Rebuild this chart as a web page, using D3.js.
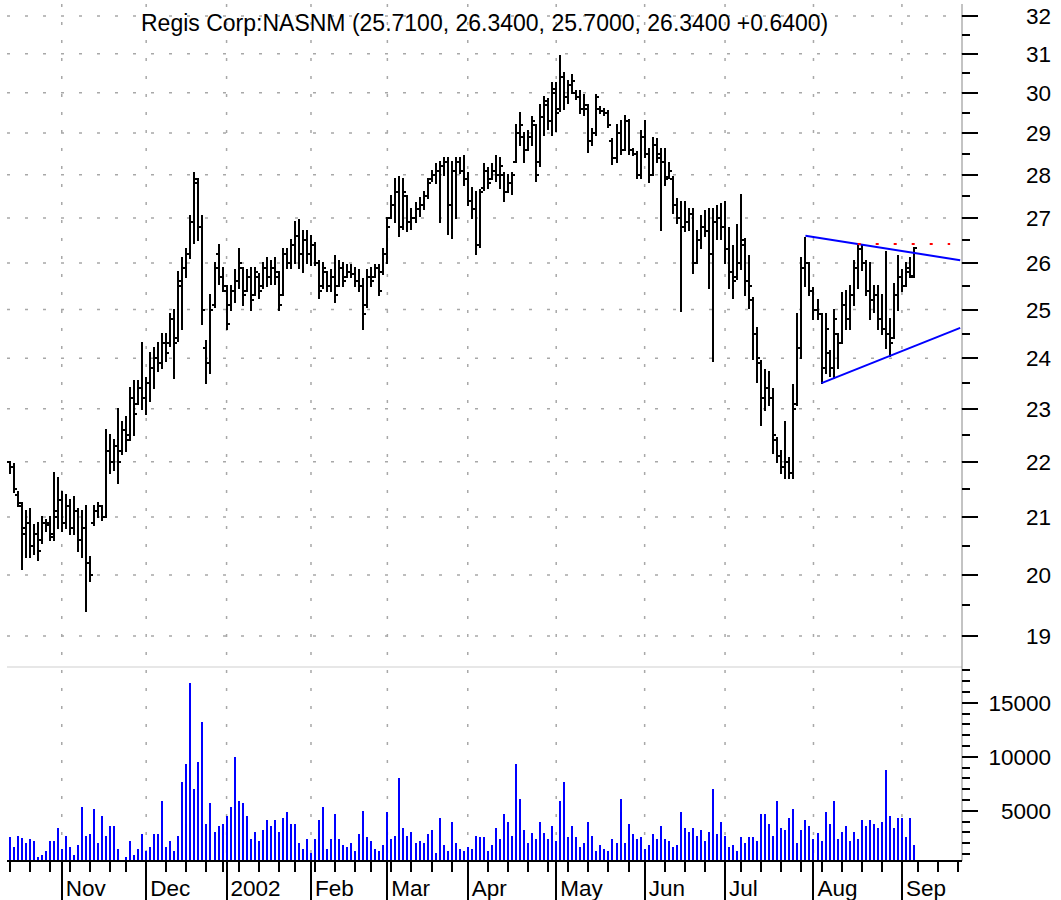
<!DOCTYPE html>
<html>
<head>
<meta charset="utf-8">
<script src="https://cdn.jsdelivr.net/npm/d3@7"></script>
<style>
  body { margin: 0; background: #fff; }
  svg { display: block; }
  text { font-family: "Liberation Sans", Arial, sans-serif; fill: #000; }
</style>
</head>
<body>
<svg id="chart" width="1061" height="900"></svg>
<script>
// daily bars, index 0 = Oct 15 2001 ... 225 = Sep 6 2002 (trading days)
const open = [
  22.0,21.9,21.4,21.2,20.8,20.9,20.5,20.7,20.6,20.9,
  20.9,20.7,21.1,21.3,20.9,21.2,20.8,21.1,20.6,20.8,
  20.2,20.9,21.1,21.2,21.0,22.2,22.0,22.3,22.2,22.6,
  22.5,23.2,23.1,23.4,23.2,23.5,23.8,24.0,23.9,24.3,
  24.3,24.8,24.4,25.5,25.9,26.2,26.9,27.8,26.8,24.2,
  23.9,25.1,26.2,25.7,25.4,25.1,25.4,25.6,25.9,25.4,
  25.7,25.3,25.7,25.5,25.9,25.7,25.9,25.7,25.3,26.2,
  26.0,26.4,26.6,26.2,26.5,26.2,26.4,26.0,25.5,25.8,
  25.5,25.7,25.5,25.9,25.7,25.8,25.75,25.6,25.5,25.1,
  25.7,25.7,25.9,25.8,26.2,27.0,27.3,27.6,26.8,27.5,
  26.9,27.0,27.2,27.3,27.5,27.9,28.0,28.1,28.2,28.3,
  27.3,28.1,28.3,28.1,27.9,27.4,27.2,26.4,27.7,28.1,
  27.9,28.1,28.0,28.0,27.6,27.8,28.3,29.0,28.9,28.6,
  28.9,29.2,28.3,29.4,29.7,29.3,30.0,29.6,30.4,29.9,
  30.2,30.0,29.9,29.6,29.6,28.8,29.0,29.6,29.55,29.5,
  28.8,28.4,29.0,28.6,29.3,28.6,28.5,28.0,28.9,28.5,
  28.0,28.7,28.5,28.3,27.95,27.9,27.3,27.0,26.8,26.9,
  27.1,26.0,26.5,26.8,26.7,26.2,26.9,27.0,26.8,26.3,
  25.8,25.7,26.0,26.4,25.6,25.2,24.5,23.9,23.2,23.4,
  23.2,22.4,22.1,21.9,22.0,21.8,23.1,24.2,25.9,26.0,
  25.4,25.0,24.9,23.8,24.1,23.8,24.5,24.3,25.1,24.8,
  25.3,25.9,26.3,26.0,25.4,25.2,25.3,24.8,24.6,24.5,
  24.4,25.3,25.7,25.5,25.8,25.71
];
const high = [
  22.0,21.95,21.45,21.25,21.1,21.15,20.85,20.9,21.0,20.95,
  21.0,21.8,21.7,21.45,21.4,21.3,21.35,21.15,21.1,21.2,
  20.3,21.2,21.25,21.2,22.6,22.5,22.4,23.0,22.75,22.85,
  23.4,23.55,23.55,24.3,23.6,24.1,24.2,24.3,24.5,24.5,
  24.9,25.0,25.8,26.1,26.3,27.05,28.05,27.9,27.05,24.35,
  25.3,26.0,26.4,25.9,25.5,25.5,25.85,26.3,25.9,25.85,
  25.9,25.9,25.75,26.0,26.1,26.05,26.1,25.8,26.3,26.3,
  26.5,26.9,26.95,26.7,26.7,26.6,26.45,26.05,26.0,25.8,
  25.85,26.15,26.05,26.0,25.95,25.95,25.9,25.85,25.65,25.85,
  25.9,25.95,25.95,26.3,27.0,27.5,27.9,27.95,27.9,27.5,
  27.2,27.35,27.45,27.6,27.9,28.1,28.25,28.3,28.4,28.4,
  28.3,28.4,28.4,28.45,28.05,27.7,27.6,27.65,28.25,28.15,
  28.25,28.45,28.4,28.05,28.0,28.05,29.2,29.5,29.0,29.05,
  29.4,29.2,29.7,29.9,29.85,30.25,30.25,30.95,30.5,30.3,
  30.45,30.05,30.05,29.95,29.7,29.1,29.95,29.65,29.6,29.55,
  28.85,29.2,29.29,29.41,29.33,28.62,28.54,29.04,29.29,28.62,
  28.88,28.85,28.62,28.62,28.27,27.96,27.44,27.36,27.36,27.2,
  27.2,26.7,27.04,27.16,27.2,27.2,27.28,27.32,27.36,26.78,
  26.37,26.85,27.52,26.52,26.15,25.24,24.62,23.95,23.76,23.72,
  23.39,22.45,22.19,22.74,22.06,23.46,24.9,26.1,26.55,26.0,
  25.45,25.2,24.9,24.9,24.15,25.0,24.5,25.35,25.4,25.5,
  26.05,26.4,26.4,26.05,26.0,25.5,25.5,25.3,26.25,24.8,
  25.55,26.15,25.85,26.0,26.1,26.34
];
const low = [
  21.8,21.45,21.2,20.1,20.3,20.3,20.35,20.25,20.55,20.75,
  20.6,20.6,20.8,20.75,20.8,20.7,20.7,20.4,20.3,19.4,
  19.9,20.85,21.0,20.95,21.0,21.8,21.85,21.6,22.15,22.2,
  22.4,22.5,23.1,23.0,22.9,23.15,23.4,23.75,23.8,23.95,
  24.25,23.6,24.35,24.6,25.7,26.1,26.45,26.5,24.7,23.5,
  23.7,25.05,25.55,25.4,24.6,25.0,25.15,25.45,25.1,25.4,
  25.0,25.3,25.25,25.45,25.5,25.55,25.55,25.0,25.3,25.9,
  25.9,26.0,25.9,25.8,26.0,25.95,25.95,25.25,25.45,25.4,
  25.4,25.15,25.5,25.5,25.7,25.7,25.5,25.4,24.6,25.05,
  25.5,25.7,25.3,25.75,26.0,27.0,26.9,26.6,26.75,26.7,
  26.75,26.9,27.05,27.2,27.45,27.85,27.8,26.9,28.0,26.65,
  26.55,27.0,28.05,27.75,27.3,27.0,26.2,26.35,27.65,27.7,
  27.9,27.85,27.7,27.4,27.6,27.55,28.3,28.7,28.3,28.6,
  28.7,27.85,28.2,28.95,29.1,28.95,29.05,29.55,29.6,29.75,
  30.0,29.85,29.5,29.45,28.55,28.7,28.95,29.5,29.45,29.15,
  28.25,28.3,28.5,28.58,28.5,28.46,27.92,27.92,28.42,27.84,
  28.0,28.31,26.74,27.76,27.92,27.12,26.89,24.97,26.7,26.74,
  25.79,26.0,26.33,26.59,25.45,23.95,26.52,26.52,26.0,25.45,
  25.24,25.66,25.86,25.31,25.03,23.99,23.53,22.68,22.97,23.07,
  22.16,22.0,21.79,21.7,21.7,21.7,23.07,24.0,25.5,25.3,
  24.8,24.8,23.5,23.7,23.65,23.6,23.8,24.3,24.6,24.6,
  25.1,25.45,25.85,25.3,24.8,24.95,24.6,24.5,24.2,24.05,
  24.4,25.0,25.4,25.5,25.7,25.70
];
const close = [
  21.9,21.5,21.25,20.7,20.9,20.5,20.7,20.4,20.9,20.85,
  20.65,21.0,21.3,20.9,21.2,20.8,21.1,20.6,20.8,20.2,
  20.0,21.1,21.2,21.0,22.2,22.0,22.3,22.0,22.6,22.4,
  23.2,22.9,23.4,23.2,23.5,23.8,24.0,23.9,24.3,24.1,
  24.8,24.3,25.6,25.9,26.2,26.9,27.9,26.8,25.0,23.9,
  25.0,25.9,25.7,25.5,24.7,25.4,25.6,26.0,25.3,25.7,
  25.2,25.8,25.4,25.9,25.7,25.9,25.8,25.1,26.2,26.0,
  26.4,26.6,26.2,26.5,26.2,26.4,26.0,25.4,25.9,25.5,
  25.7,25.3,25.9,25.6,25.8,25.75,25.6,25.5,24.9,25.7,
  25.6,25.9,25.4,26.2,26.8,27.3,27.6,26.8,27.6,26.9,
  27.0,27.2,27.3,27.5,27.8,28.0,28.1,28.2,28.3,27.3,
  28.1,28.3,28.1,27.9,27.4,27.2,26.4,27.6,28.1,27.8,
  28.1,28.0,28.2,27.6,27.8,28.0,29.0,29.2,28.6,28.9,
  29.3,28.0,29.4,29.8,29.3,30.1,29.5,30.4,29.9,30.2,
  30.3,29.9,29.6,29.7,28.8,29.0,29.9,29.55,29.5,29.2,
  28.4,29.0,28.6,29.3,28.6,28.5,28.0,28.9,28.5,28.0,
  28.7,28.4,28.3,27.9,28.1,27.3,27.0,26.8,26.9,27.1,
  26.0,26.5,26.8,26.7,26.2,26.9,27.0,26.8,26.3,25.8,
  25.6,26.0,26.5,25.6,25.5,24.5,24.0,23.2,23.4,23.2,
  22.5,22.1,21.9,22.0,21.8,23.0,24.2,25.9,26.0,25.4,
  25.0,24.9,23.8,24.6,23.8,24.8,24.3,25.1,24.8,25.3,
  25.9,26.3,26.0,25.4,25.2,25.3,24.8,24.6,24.5,24.3,
  25.3,25.7,25.5,25.9,25.70,26.34
];
const volume = [
  2530,1600,2690,2500,1975,2350,2160,740,930,1270,
  2160,2160,3430,1450,2690,1600,930,1790,5370,2690,
  2870,5190,1975,4480,2690,3610,3610,1450,400,740,
  2160,930,1450,2870,1270,1600,2870,2870,5900,1600,
  2160,1270,2690,7690,9290,16790,6980,9480,13240,3770,
  5740,3060,3580,3770,4480,5370,10000,5900,5740,4480,
  2350,3060,2160,3240,4140,3580,4140,3060,4290,4850,
  3770,3770,1975,1450,2350,1110,2350,4140,5370,1450,
  2350,4660,2350,1790,1600,1975,1270,2870,5000,2530,
  2160,1450,1270,1790,4850,2350,2690,8060,3430,2690,
  3060,1975,2160,1975,2870,3240,1110,4290,1790,1270,
  3950,1975,1450,1270,1600,1450,2690,2530,2530,1270,
  1790,3430,2350,4660,3950,2690,9290,6080,3240,1975,
  2900,2350,3920,2900,2350,3610,2160,5900,7690,2530,
  3610,2530,1600,1975,3920,2690,1270,1790,1450,1270,
  2350,1975,6080,1975,3770,2870,2350,2530,1450,1790,
  2870,2350,3610,2350,2160,1600,1790,4850,3430,3060,
  3430,2690,3240,2160,3060,6980,2870,3950,2690,1600,
  1790,1270,2530,1975,2530,2530,2160,4660,4660,3770,
  2690,5900,3430,3240,4290,5190,1975,3240,4140,3610,
  2350,2900,2160,4850,3770,5900,2350,3060,3610,2160,
  3060,2350,4140,3610,4140,3770,3430,3950,8770,4480,
  3430,4290,4290,2530,4290,1790
];

const monthLabels = ["Nov", "Dec", "2002", "Feb", "Mar", "Apr", "May", "Jun", "Jul", "Aug", "Sep"];
const monthIndex = [13, 34, 54, 75, 94, 114, 136, 158, 178, 200, 222];
const weekIndex = [0, 5, 10, 15, 20, 25, 29, 34, 39, 44, 49, 53, 57, 62, 67, 71, 76, 81, 86, 90,
  95, 100, 105, 110, 114, 119, 124, 129, 134, 139, 144, 149, 154, 158, 163, 168, 173, 178, 182,
  187, 192, 197, 202, 207, 212, 217, 222, 226, 231, 236];

const priceTicks = [19, 20, 21, 22, 23, 24, 25, 26, 27, 28, 29, 30, 31, 32];
const volumeTicks = [5000, 10000, 15000];

// triangle drawn on the chart: [bar index, price]
const trendUpper = [[198, 26.6], [236.5, 26.06]];
const trendLower = [[202, 23.5], [236.5, 24.62]];
const resistance = [[211, 26.42], [234, 26.42]];

const title = "Regis Corp:NASNM (25.7100, 26.3400, 25.7000, 26.3400 +0.6400)";

const svg = d3.select("#chart");

const axisX = 962;
const baseY = 861;
const x = d3.scaleLinear().domain([0, 236]).range([9.5, 958.2]);
const y = d3.scaleLog().domain([19, 32]).range([636, 16]);
const yv = d3.scaleLinear().domain([0, 15000]).range([864.7, 702.7]);

const bars = d3.range(open.length).map(i => ({
  i: i, o: open[i], h: high[i], l: low[i], c: close[i], v: volume[i]
}));

// dotted grid
const grid = svg.append("g")
    .attr("stroke", "#a8a8a8")
    .attr("stroke-width", 1.5)
    .attr("stroke-dasharray", "3,15");

grid.selectAll("line.h")
    .data(priceTicks)
    .join("line")
    .attr("class", "h")
    .attr("x1", 7)
    .attr("x2", axisX)
    .attr("y1", d => y(d))
    .attr("y2", d => y(d));

grid.selectAll("line.v")
    .data(monthIndex)
    .join("line")
    .attr("class", "v")
    .attr("x1", d => x(d))
    .attr("x2", d => x(d))
    .attr("y1", 4)
    .attr("y2", baseY);

// panel separator
svg.append("line")
    .attr("x1", 7).attr("x2", axisX)
    .attr("y1", 667).attr("y2", 667)
    .attr("stroke", "#cfcfcf")
    .attr("stroke-width", 1);

// volume
svg.append("g")
    .selectAll("line")
    .data(bars)
    .join("line")
    .attr("x1", d => x(d.i))
    .attr("x2", d => x(d.i))
    .attr("y1", baseY)
    .attr("y2", d => yv(d.v))
    .attr("stroke", "#0000ff")
    .attr("stroke-width", 2)
    .attr("shape-rendering", "crispEdges");

// price bars
const pb = svg.append("g")
    .attr("stroke", "#000")
    .attr("stroke-width", 2)
    .attr("shape-rendering", "crispEdges");

const bar = pb.selectAll("g")
    .data(bars)
    .join("g");

bar.append("line")
    .attr("x1", d => x(d.i))
    .attr("x2", d => x(d.i))
    .attr("y1", d => y(d.h) - 1)
    .attr("y2", d => y(d.l) + 1);

bar.append("line")
    .attr("x1", d => x(d.i) - 3)
    .attr("x2", d => x(d.i))
    .attr("y1", d => y(d.o))
    .attr("y2", d => y(d.o));

bar.append("line")
    .attr("x1", d => x(d.i))
    .attr("x2", d => x(d.i) + 3)
    .attr("y1", d => y(d.c))
    .attr("y2", d => y(d.c));

// triangle lines
const line = d3.line().x(d => x(d[0])).y(d => y(d[1]));

svg.append("path")
    .datum(trendUpper)
    .attr("d", line)
    .attr("fill", "none")
    .attr("stroke", "#0000ff")
    .attr("stroke-width", 2);

svg.append("path")
    .datum(trendLower)
    .attr("d", line)
    .attr("fill", "none")
    .attr("stroke", "#0000ff")
    .attr("stroke-width", 2);

svg.append("path")
    .datum(resistance)
    .attr("d", line)
    .attr("fill", "none")
    .attr("stroke", "#ff0000")
    .attr("stroke-width", 2)
    .attr("stroke-dasharray", "3,15");

// right axis
svg.append("line")
    .attr("x1", axisX).attr("x2", axisX)
    .attr("y1", 4).attr("y2", baseY)
    .attr("stroke", "#888")
    .attr("stroke-width", 1);

const ticks = svg.append("g")
    .attr("stroke", "#000")
    .attr("stroke-width", 2)
    .attr("shape-rendering", "crispEdges");

const priceMinor = d3.range(18.5, 32.6, 0.5);
ticks.selectAll("line.pt")
    .data(priceMinor)
    .join("line")
    .attr("class", "pt")
    .attr("x1", axisX)
    .attr("x2", d => Number.isInteger(d) ? axisX + 16 : axisX + 8)
    .attr("y1", d => y(d))
    .attr("y2", d => y(d))
    .filter(d => y(d) < 0 || y(d) > 664).remove();

const volMinor = d3.range(1000, 18001, 1000);
ticks.selectAll("line.vt")
    .data(volMinor)
    .join("line")
    .attr("class", "vt")
    .attr("x1", axisX)
    .attr("x2", d => d % 5000 === 0 ? axisX + 16 : axisX + 8)
    .attr("y1", d => yv(d))
    .attr("y2", d => yv(d));

svg.append("g")
    .selectAll("text")
    .data(priceTicks)
    .join("text")
    .attr("x", 1051)
    .attr("y", d => y(d) + 8)
    .attr("text-anchor", "end")
    .style("font-size", "22.5px")
    .text(d => d);

svg.append("g")
    .selectAll("text")
    .data(volumeTicks)
    .join("text")
    .attr("x", 1051)
    .attr("y", d => yv(d) + 8)
    .attr("text-anchor", "end")
    .style("font-size", "22.5px")
    .text(d => d);

// bottom axis
svg.append("line")
    .attr("x1", 7).attr("x2", axisX)
    .attr("y1", baseY).attr("y2", baseY)
    .attr("stroke", "#000")
    .attr("stroke-width", 2);

ticks.selectAll("line.wk")
    .data(weekIndex)
    .join("line")
    .attr("class", "wk")
    .attr("x1", d => x(d)).attr("x2", d => x(d))
    .attr("y1", baseY).attr("y2", baseY + 11);

ticks.selectAll("line.mo")
    .data(monthIndex)
    .join("line")
    .attr("class", "mo")
    .attr("x1", d => x(d)).attr("x2", d => x(d))
    .attr("y1", baseY).attr("y2", 900);

svg.append("g")
    .selectAll("text")
    .data(monthLabels)
    .join("text")
    .attr("x", (d, k) => x(monthIndex[k]) + 4)
    .attr("y", 896)
    .style("font-size", "22.5px")
    .text(d => d);

svg.append("text")
    .attr("x", 141)
    .attr("y", 31)
    .style("font-size", "23px")
    .text(title);
</script>
</body>
</html>
